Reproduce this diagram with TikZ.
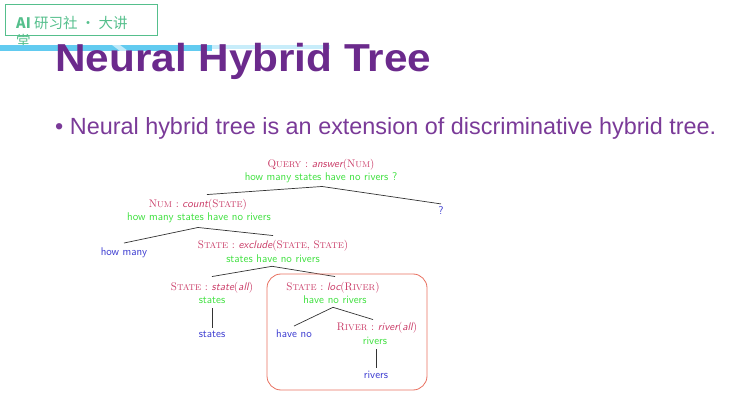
\documentclass[tikz,border=0pt]{standalone}
\usepackage{fontspec}
\setmainfont{Latin Modern Roman}
\newfontfamily\arialf{Liberation Sans}
\newfontfamily\cjkf{Noto Sans CJK SC}
\newfontfamily\lmsans{Latin Modern Sans}
\definecolor{hdrgreen}{HTML}{55BF8C}
\definecolor{bandblue}{HTML}{62CBF0}
\definecolor{titlepurple}{HTML}{6B2A8C}
\definecolor{bulletpurple}{HTML}{7A3A98}
\definecolor{catred}{HTML}{C93A66}
\definecolor{wgreen}{HTML}{3EE03E}
\definecolor{wblue}{HTML}{3A3AD0}
\definecolor{boxred}{HTML}{E8705F}
\definecolor{edgegray}{HTML}{333333}
\tikzset{
  cat/.style={inner sep=0pt, anchor=base, text=catred, font=\fontsize{11}{12}\selectfont},
  grn/.style={inner sep=0pt, anchor=base, text=wgreen, font=\lmsans\fontsize{11.2}{12}\selectfont},
  leaf/.style={inner sep=0pt, anchor=base, text=wblue, font=\lmsans\fontsize{11.2}{12}\selectfont},
  edge/.style={draw=edgegray, line width=0.7pt},
}
\newcommand{\fn}[1]{{\lmsans\itshape #1}}
\newcommand{\sck}[2]{#1{\fontsize{8.4}{10}\selectfont #2}}
\begin{document}
\begin{tikzpicture}[x=1pt,y=-1pt]
\useasboundingbox (0,0) rectangle (740,406);
% header
\node[draw=hdrgreen, line width=1.3pt, minimum width=152pt, minimum height=31pt, anchor=north west, inner sep=0pt] (hdr) at (5,4) {};
\node[anchor=base west, inner sep=0pt, text=hdrgreen, font=\cjkf\fontsize{14.5}{15}\selectfont] (hdrt) at (16,29) {\textbf{AI} 研习社 · 大讲};
\node[anchor=base west, inner sep=0pt, text=hdrgreen, font=\cjkf\fontsize{14.5}{15}\selectfont] (hdrt2) at (16,47) {堂};
% blue band
\fill[bandblue] (0,45) rectangle (212,51);
\fill[white, opacity=0.6] (112,45) -- (120,45) -- (128,51) -- (120,51) -- cycle;
\fill[bandblue!35] (212,45) rectangle (330,49);
% title
\node[anchor=base west, inner sep=0pt, text=titlepurple, font=\arialf\bfseries\fontsize{39}{40}\selectfont] (title) at (55,72) {\scalebox{1.085}[1]{Neural Hybrid Tree}};
% bullet
\node[anchor=base west, inner sep=0pt, text=bulletpurple, font=\arialf\fontsize{23.4}{26}\selectfont] (bul) at (55,135) {\textbullet\ Neural hybrid tree is an extension of discriminative hybrid tree.};
% tree
\node[cat] (q) at (321,168) {\sck{Q}{UERY} : \fn{answer}(\sck{N}{UM})};
\node[grn] (qw) at (321,181) {how many states have no rivers ?};
\node[leaf] (qm) at (441,215) {?};
\node[cat] (n) at (198,208) {\sck{N}{UM} : \fn{count}(\sck{S}{TATE})};
\node[grn] (nw) at (199,221) {how many states have no rivers};
\node[leaf] (hm) at (124,256) {how many};
\node[cat] (e) at (273,249) {\sck{S}{TATE} : \fn{exclude}(\sck{S}{TATE}, \sck{S}{TATE})};
\node[grn] (ew) at (273,263) {states have no rivers};
\node[cat] (s) at (212,291) {\sck{S}{TATE} : \fn{state}(\fn{all})};
\node[grn] (sw) at (212,304) {states};
\node[leaf] (sl) at (212,338) {states};
\node[cat] (l) at (333,291) {\sck{S}{TATE} : \fn{loc}(\sck{R}{IVER})};
\node[grn] (lw) at (335,304) {have no rivers};
\node[leaf] (hn) at (294,338) {have no};
\node[cat] (r) at (377,331) {\sck{R}{IVER} : \fn{river}(\fn{all})};
\node[grn] (rw) at (375,345) {rivers};
\node[leaf] (rl) at (376,379) {rivers};
% edges
\draw[edge] ([xshift=1pt,yshift=-3pt]qw.south) -- ([xshift=9pt,yshift=5pt]n.north);
\draw[edge] ([xshift=1pt,yshift=-3pt]qw.south) -- ([yshift=3pt]qm.north);
\draw[edge] ([xshift=-1pt,yshift=-4pt]nw.south) -- ([yshift=5pt]hm.north);
\draw[edge] ([xshift=-1pt,yshift=-4pt]nw.south) -- ([yshift=5pt]e.north);
\draw[edge] ([xshift=-1pt,yshift=-3pt]ew.south) -- ([yshift=6pt]s.north);
\draw[edge] ([xshift=-1pt,yshift=-3pt]ew.south) -- ([xshift=2pt,yshift=6pt]l.north);
\draw[edge] ([yshift=-4pt]sw.south) -- ([yshift=3pt]sl.north);
\draw[edge] ([xshift=-2pt,yshift=-3pt]lw.south) -- ([yshift=4pt]hn.north);
\draw[edge] ([xshift=-2pt,yshift=-3pt]lw.south) -- ([xshift=-4pt,yshift=3pt]r.north);
\draw[edge] ([xshift=1pt,yshift=-4pt]rw.south) -- ([yshift=3pt]rl.north);
% highlight box
\node[draw=boxred, line width=0.8pt, rounded corners=14pt, inner sep=0pt, minimum width=160pt, minimum height=116pt] (hl) at (347,332) {};
\end{tikzpicture}
\end{document}
